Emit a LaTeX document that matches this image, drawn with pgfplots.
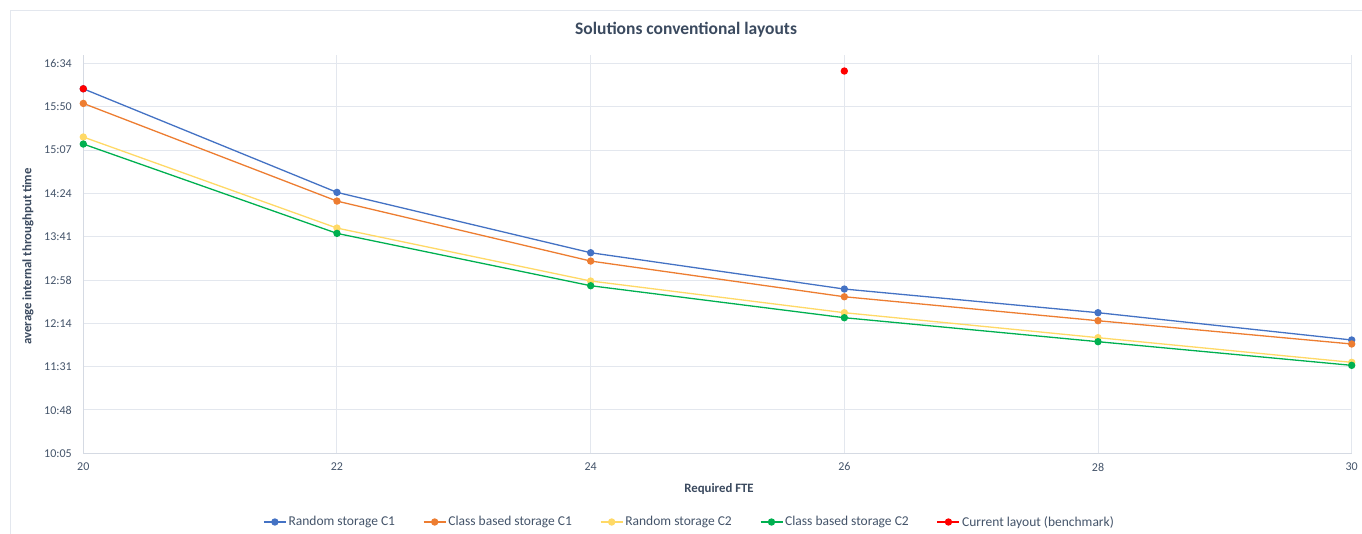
\documentclass[border=0pt]{standalone}
\usepackage{fontspec}
\setmainfont{Carlito}
\usepackage{pgfplots}
\pgfplotsset{compat=1.18}

\definecolor{cblue}{HTML}{4472C4}
\definecolor{corange}{HTML}{ED7D31}
\definecolor{cyellow}{HTML}{FFD966}
\definecolor{cgreen}{HTML}{00B050}
\definecolor{cred}{HTML}{FF0000}
\definecolor{gridc}{HTML}{E3E7EE}
\definecolor{axc}{HTML}{D5DAE3}
\definecolor{txt}{HTML}{44546A}
\definecolor{ttl}{HTML}{3B4A5F}

% Throughput times in minutes after midnight, per required FTE
\pgfplotstableread{
fte  rc1    cbc1   rc2    cbc2
20   968.3  953.7  920.2  913.2
22   865.0  856.3  829.4  824.1
24   804.8  796.5  776.6  771.9
26   768.6  760.9  745.0  740.0
28   745.0  737.0  720.1  716.1
30   717.8  713.8  695.5  692.5
}\solutions

\pgfplotstableread{
fte  cur
20   968.3
22   nan
24   nan
26   986.0
}\benchmark

\begin{document}
\begin{tikzpicture}[x=1pt,y=1pt]
\useasboundingbox (0,0) rectangle (1362,534);
\fill[white] (0,0) rectangle (1362,534);
\draw[gridc, line width=1pt] (10.5,-2) -- (10.5,523.5) -- (1370,523.5);

\node[font=\bfseries\fontsize{17.5}{20}\selectfont, text=ttl] at (686,504) {Solutions conventional layouts};
\node[font=\bfseries\fontsize{12.8}{15}\selectfont, text=ttl] at (719,45) {Required FTE};
\node[font=\bfseries\fontsize{12.8}{15}\selectfont, text=ttl, rotate=90] at (28,277.5) {average internal throughput time};

\begin{axis}[
  at={(83.3pt,80.7pt)}, anchor=south west,
  scale only axis, width=1268.4pt, height=398.3pt,
  xmin=20, xmax=30, ymin=604.8, ymax=1002,
  xtick={20,22,24,26,28,30},
  xticklabels={20,22,24,26,28,30},
  ytick={604.8,648,691.2,734.4,777.6,820.8,864,907.2,950.4,993.6},
  yticklabels={10:05,10:48,11:31,12:14,12:58,13:41,14:24,15:07,15:50,16:34},
  axis lines=left,
  axis line style={-, draw=axc, line width=1pt},
  grid=major,
  major grid style={draw=gridc, line width=1pt},
  major tick length=0pt,
  tick label style={font=\fontsize{12}{14}\selectfont, text=txt},
  xticklabel style={yshift=-6pt},
  yticklabel style={xshift=-8pt},
  unbounded coords=jump,
  every axis plot/.append style={line width=1.3pt},
  legend columns=5,
  legend style={at={(axis description cs:0.478,-0.1725)}, anchor=center,
    draw=none, fill=none, font=\fontsize{13.5}{15}\selectfont, text=txt,
    /tikz/every odd column/.append style={inner xsep=1pt},
    /tikz/every even column/.append style={column sep=26pt}},
  legend image code/.code={
    \draw[mark repeat=2, mark phase=2] plot coordinates {(0pt,0pt) (11pt,0pt) (22pt,0pt)};
  },
]
\addplot[cblue, mark=*, mark size=3pt, mark options={solid}] table[x=fte, y=rc1] {\solutions};
\addlegendentry{Random storage C1}
\addplot[corange, mark=*, mark size=3pt, mark options={solid}] table[x=fte, y=cbc1] {\solutions};
\addlegendentry{Class based storage C1}
\addplot[cyellow, mark=*, mark size=3pt, mark options={solid}] table[x=fte, y=rc2] {\solutions};
\addlegendentry{Random storage C2}
\addplot[cgreen, mark=*, mark size=3pt, mark options={solid}] table[x=fte, y=cbc2] {\solutions};
\addlegendentry{Class based storage C2}
\addplot[cred, mark=*, mark size=3pt, mark options={solid}] table[x=fte, y=cur] {\benchmark};
\addlegendentry{Current layout (benchmark)}
\end{axis}
\end{tikzpicture}
\end{document}
